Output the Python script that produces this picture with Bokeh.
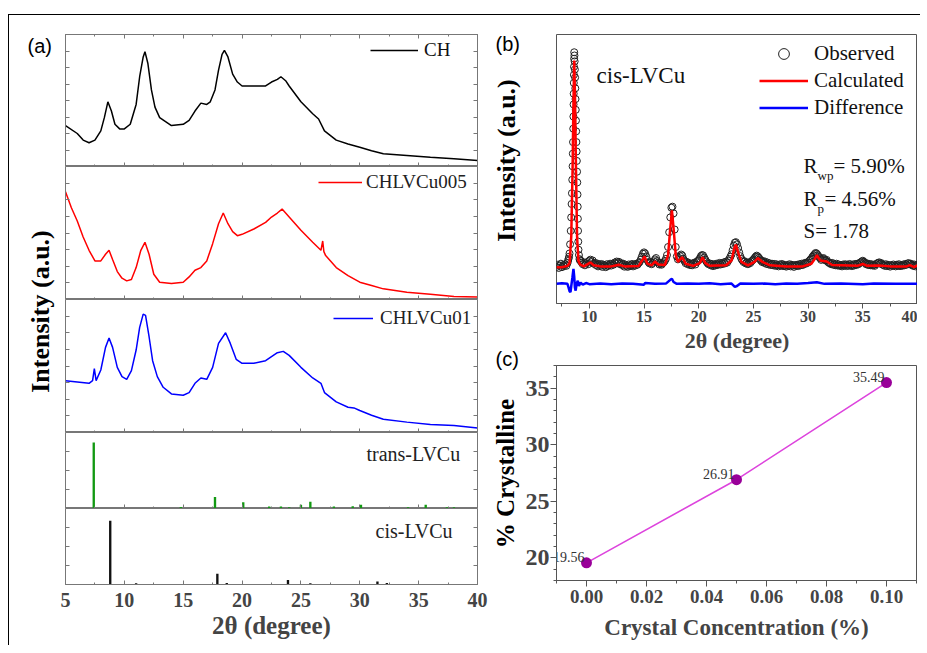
import math
from bokeh.plotting import figure
from bokeh.models import (Range1d, LinearAxis, FixedTicker, Legend, LegendItem,
                          PrintfTickFormatter, CustomJSTickFormatter)
from bokeh.layouts import row, column
from bokeh.core.properties import value
from bokeh.embed import file_html
from bokeh.resources import INLINE

SERIF = "Liberation Serif"
SANS = "Liberation Sans"

# ---------------- panel (a) data (fraction of each sub-panel height) ----------------
ch_x = [5, 6, 6.5, 7, 7.5, 8, 8.3, 8.6, 8.9, 9.2, 9.6, 10, 10.5, 11, 11.3, 11.6, 11.75, 12, 12.3, 12.6,
        13, 13.5, 14, 15, 15.5, 16, 16.5, 17, 17.3, 17.7, 18, 18.3, 18.5, 18.8, 19.2, 19.6, 20, 21, 22, 22.5,
        23, 23.3, 23.7, 24, 25, 26, 26.5, 27, 28, 29, 30, 31, 32, 34, 36, 38, 40]
ch_y = [0.31, 0.25, 0.20, 0.18, 0.20, 0.27, 0.37, 0.49, 0.42, 0.32, 0.285, 0.285, 0.32, 0.47, 0.68, 0.83, 0.87, 0.78, 0.58, 0.45,
        0.37, 0.34, 0.31, 0.32, 0.35, 0.42, 0.48, 0.47, 0.49, 0.58, 0.73, 0.85, 0.88, 0.83, 0.70, 0.64, 0.61, 0.61, 0.61, 0.64,
        0.66, 0.68, 0.65, 0.61, 0.49, 0.40, 0.36, 0.27, 0.20, 0.17, 0.146, 0.12, 0.096, 0.083, 0.07, 0.058, 0.045]

c005_x = [5, 5.5, 6, 6.5, 7, 7.5, 8, 8.4, 8.7, 9.0, 9.4, 9.8, 10.2, 10.6, 11, 11.4, 11.75, 12.1, 12.5, 13,
          14, 15, 15.5, 16, 16.5, 17, 17.5, 18, 18.4, 18.8, 19.2, 19.6, 20, 21, 22, 22.5, 23, 23.4, 24, 25,
          26, 26.7, 26.85, 26.95, 27.1, 28, 29, 30, 31, 32, 34, 36, 38, 40]
c005_y = [0.81, 0.69, 0.59, 0.47, 0.37, 0.29, 0.29, 0.34, 0.37, 0.30, 0.21, 0.16, 0.14, 0.15, 0.24, 0.37, 0.43, 0.34, 0.19, 0.13,
          0.12, 0.13, 0.17, 0.22, 0.24, 0.29, 0.42, 0.57, 0.65, 0.57, 0.51, 0.48, 0.49, 0.53, 0.58, 0.62, 0.65, 0.68, 0.62, 0.52,
          0.43, 0.37, 0.44, 0.36, 0.33, 0.24, 0.18, 0.13, 0.105, 0.08, 0.055, 0.04, 0.023, 0.018]

c01_x = [5, 6, 7, 7.3, 7.45, 7.6, 8, 8.4, 8.7, 9, 9.4, 9.8, 10.2, 10.6, 11, 11.3, 11.6, 11.8, 12.1, 12.4,
         12.8, 13.3, 14, 15, 15.5, 16, 16.5, 17, 17.5, 18, 18.6, 19, 19.5, 20, 21, 22, 22.5, 23, 23.5, 24,
         25, 26, 26.7, 27, 28, 29, 29.5, 30, 31, 32, 34, 36, 38, 40]
c01_y = [0.39, 0.38, 0.37, 0.39, 0.48, 0.39, 0.47, 0.64, 0.71, 0.64, 0.49, 0.42, 0.40, 0.465, 0.62, 0.79, 0.89, 0.88, 0.72, 0.54,
         0.42, 0.34, 0.29, 0.28, 0.30, 0.37, 0.41, 0.40, 0.49, 0.67, 0.75, 0.67, 0.55, 0.52, 0.52, 0.54, 0.57, 0.60, 0.61, 0.58,
         0.49, 0.41, 0.37, 0.30, 0.23, 0.19, 0.185, 0.165, 0.13, 0.10, 0.078, 0.06, 0.053, 0.033]

trans_x = [7.4, 14.8, 17.7, 20.1, 22.3, 23.3, 24.0, 25.0, 25.8, 27.8, 29.4, 30.1, 34.1, 35.6, 37.4, 38.0]
trans_y = [0.87, 0.02, 0.15, 0.083, 0.026, 0.026, 0.018, 0.05, 0.09, 0.026, 0.03, 0.05, 0.018, 0.048, 0.018, 0.018]
cis_x = [8.8, 11.0, 17.9, 18.7, 23.9, 25.8, 31.5, 32.3]
cis_y = [0.84, 0.018, 0.14, 0.02, 0.06, 0.018, 0.04, 0.02]

# ---------------- panel (b) data (percent of frame height) ----------------
# observed points 7.0 .. 7.9 (step 0.1)
obs_start = [13.6, 14.4, 13.2, 14.1, 14.8, 13.5, 14.3, 13.9, 14.6, 14.0]
# observed points on the main peak (x, y)
obs_peak = [(8.0, 15.0), (8.05, 15.8), (8.1, 16.6), (8.15, 17.4), (8.19, 18.6), (8.24, 22), (8.3, 27), (8.34, 32),
            (8.38, 37), (8.41, 41), (8.44, 46), (8.47, 51), (8.49, 55.7), (8.51, 60), (8.53, 65), (8.545, 69.5),
            (8.56, 74), (8.57, 78), (8.58, 82), (8.59, 85), (8.6, 88), (8.61, 91), (8.62, 93.4), (8.64, 92.2),
            (8.66, 90), (8.68, 87), (8.7, 84), (8.72, 80), (8.74, 76), (8.76, 72), (8.78, 68), (8.8, 64),
            (8.82, 60), (8.84, 56.5), (8.86, 53), (8.88, 49), (8.9, 45), (8.92, 40.5), (8.94, 36), (8.955, 31.5),
            (8.97, 27), (8.99, 23), (9.01, 20), (9.05, 18), (9.1, 16.5), (9.15, 16.0)]
# observed points 9.2 .. 40.0 (step 0.1)
obs_rest = [16.0, 15.2, 14.6, 15.3, 14.2, 14.9, 15.4, 14.6,
            15.9, 16.3, 15.4, 16.0, 14.8, 15.1, 14.3, 14.9, 13.8, 14.5,
            14.0, 14.7, 13.6, 14.4, 14.1, 13.5, 14.6, 13.9, 14.3, 14.8,
            14.1, 14.7, 14.4, 15.2, 14.9, 15.6, 15.1, 15.5, 14.6, 15.0,
            14.3, 14.8, 13.7, 14.4, 14.0, 13.6, 14.5, 13.9, 14.2, 14.7,
            13.8, 14.5, 14.1, 14.8, 14.4, 15.0, 15.4, 16.3, 17.4, 18.5,
            19.0, 18.6, 17.5, 16.2, 15.4, 14.9, 15.3, 14.6, 15.1, 15.7,
            16.4, 16.9, 15.8, 15.2, 14.5, 15.0, 14.4, 14.9, 15.3, 15.8,
            16.6, 18.0, 21.0, 26.5, 32.0, 35.6, 36.0, 33.5, 27.5, 21.0,
            17.5, 16.4, 16.9, 17.6, 18.2, 17.8, 16.6, 15.8, 15.0, 15.5,
            14.6, 15.1, 14.3, 14.8, 14.2, 14.9, 15.2, 14.5, 15.4, 15.8,
            16.1, 16.8, 17.6, 18.0, 17.9, 17.1, 16.3, 15.6, 15.0, 14.6,
            14.9, 14.2, 14.7, 13.9, 14.5, 14.1, 14.8, 14.3, 14.6, 15.1,
            14.5, 15.0, 14.7, 15.3, 14.9, 15.6, 15.2, 15.9, 16.6, 17.4,
            18.3, 19.8, 21.5, 22.6, 22.8, 22.0, 20.6, 19.0, 17.6, 16.6,
            16.0, 15.4, 15.7, 14.9, 15.2, 14.6, 15.3, 15.0, 15.6, 16.0,
            16.4, 16.9, 17.4, 17.8, 17.5, 17.0, 16.4, 15.9, 15.4, 15.8,
            15.1, 15.5, 14.7, 15.2, 14.5, 14.9, 14.3, 14.8, 14.2, 14.7,
            14.0, 14.6, 14.2, 13.8, 14.5, 14.1, 14.7, 13.9, 14.4, 14.0,
            13.7, 14.3, 14.0, 14.6, 13.8, 14.4, 14.1, 13.6, 14.3, 14.0,
            14.4, 13.9, 14.6, 14.2, 14.8, 14.3, 14.7, 15.1, 14.8, 15.3,
            15.2, 15.8, 16.3, 16.7, 17.4, 17.9, 18.4, 18.8, 18.5, 17.9,
            17.3, 16.8, 16.2, 16.6, 16.9, 16.4, 16.0, 16.2, 15.5, 15.1,
            15.0, 14.6, 15.1, 14.4, 14.7, 14.2, 14.8, 14.1, 14.5, 14.0,
            14.3, 13.8, 14.5, 14.1, 14.6, 13.9, 14.4, 14.0, 14.7, 14.2,
            13.9, 14.5, 14.1, 14.7, 14.3, 14.8, 14.6, 15.0, 15.3, 15.6,
            15.9, 15.5, 15.1, 14.6, 14.9, 14.3, 14.7, 14.2, 14.6, 14.1,
            14.4, 14.0, 14.6, 14.9, 15.1, 15.3, 14.8, 15.0, 14.5, 14.3,
            14.0, 14.6, 13.9, 14.4, 14.1, 13.7, 14.3, 14.0, 14.5, 14.1,
            13.8, 14.4, 14.0, 14.6, 13.9, 14.3, 14.0, 14.5, 14.2, 14.7,
            14.4, 14.9, 15.0, 14.6, 14.8, 14.3, 14.0, 14.5, 13.8, 14.3,
            14.1]
calculated = [(7.0, 13.5), (7.5, 13.5), (8.0, 14.0), (8.2, 15.0), (8.35, 25), (8.47, 50), (8.55, 75), (8.62, 90.3),
              (8.7, 75), (8.78, 50), (8.88, 25), (9.0, 16), (9.15, 14.5), (9.5, 13.8), (10.0, 15.0), (10.1, 15.3),
              (10.4, 14.2), (11.0, 13.8), (12.0, 13.8), (12.7, 14.4), (13.2, 13.8), (14.5, 13.9), (14.9, 16.5),
              (15.05, 17.5), (15.3, 14.8), (15.7, 14.2), (16.0, 15.6), (16.3, 14.5), (16.9, 14.3), (17.2, 18),
              (17.4, 28), (17.55, 34.6), (17.7, 28), (17.9, 18), (18.1, 15.5), (18.5, 17.2), (18.8, 14.8),
              (19.5, 14.0), (20.1, 15.0), (20.35, 17.2), (20.6, 15.0), (21.0, 14.0), (22.5, 14.2), (23.0, 16.0),
              (23.25, 20.5), (23.4, 21.9), (23.6, 19.0), (23.9, 15.5), (24.5, 14.2), (25.1, 15.5), (25.4, 16.9),
              (25.8, 15.5), (26.5, 14.2), (28.0, 13.8), (29.5, 13.8), (30.3, 14.8), (30.6, 16.5), (30.8, 18.0),
              (31.1, 16.0), (31.7, 15.6), (32.2, 14.3), (34.5, 14.0), (35.0, 14.7), (35.4, 14.0), (36.5, 14.1),
              (37.5, 13.8), (39.0, 13.8), (39.3, 14.3), (39.7, 13.5), (40.0, 14.2)]
difference = [(7.0, 7.3), (7.5, 7.5), (8.0, 7.3), (8.1, 6.0), (8.2, 4.5), (8.28, 4.2), (8.35, 6.5), (8.45, 9.5),
              (8.55, 12.9), (8.62, 10), (8.68, 6), (8.75, 4.8), (8.85, 7.5), (8.95, 8.5), (9.05, 6.5), (9.2, 7.8),
              (9.4, 7.0), (9.7, 7.6), (10, 7.2), (11, 7.4), (12, 7.2), (13, 7.4), (14, 7.3), (15, 7.0), (15.1, 7.6),
              (16, 7.3), (17, 7.4), (17.4, 8.8), (17.55, 9.2), (17.7, 8.0), (18, 7.3), (19, 7.4), (20, 7.3), (21, 7.5),
              (22, 7.2), (23, 7.4), (23.3, 6.2), (23.5, 6.5), (23.8, 7.4), (25, 7.3), (26, 7.4), (27, 7.2), (28, 7.4),
              (29, 7.3), (30, 7.6), (30.8, 7.9), (31.5, 7.3), (33, 7.4), (35, 7.2), (36, 7.4), (38, 7.3), (40, 7.3)]

# ---------------- panel (c) data ----------------
conc = [0.00, 0.05, 0.10]
cryst = [19.56, 26.91, 35.49]
cryst_labels = ["19.56", "26.91", "35.49"]

AX = "#777777"
DK = "#555555"
NOLABEL = CustomJSTickFormatter(code="return ''")


def no_grid(f):
    f.xgrid.visible = False
    f.ygrid.visible = False
    return f


def bold_text(sz):
    return dict(text_font=value(SERIF), text_font_style="bold", text_font_size=sz)


def strip(width):
    return no_grid(figure(width=width, height=630, x_range=Range1d(0, width), y_range=Range1d(0, 630), min_border=0,
                          toolbar_location=None, output_backend="svg", x_axis_location=None, y_axis_location=None,
                          outline_line_color=None))


# ---------------- panel (a) ----------------
la = strip(50)
la.text(x=[18], y=[600], text=["(a)"], text_font=value(SANS), text_font_size="20px",
        text_baseline="middle", text_align="left", text_color="black")
la.text(x=[31], y=[334], text=["Intensity (a.u.)"], angle=math.pi / 2, text_align="center",
        text_baseline="middle", text_color="black", **bold_text("26px"))

xr = Range1d(5, 40)
xmaj = [5, 10, 15, 20, 25, 30, 35, 40]
xmin = [7.5, 12.5, 17.5, 22.5, 27.5, 32.5, 37.5]


def in_axis(ticks, minor=None):
    return LinearAxis(ticker=FixedTicker(ticks=ticks, minor_ticks=minor or []), formatter=NOLABEL,
                      major_tick_in=4, major_tick_out=0, minor_tick_in=2, minor_tick_out=0,
                      major_label_text_font_size="1px", major_label_standoff=0,
                      axis_line_color=AX, major_tick_line_color=AX, minor_tick_line_color=AX)


def make_sub(h, yticks, top=0, bottom=0):
    f = figure(frame_width=412, frame_height=h, x_range=xr, y_range=Range1d(0, 1),
               min_border_left=6, min_border_right=12, min_border_top=top, min_border_bottom=bottom,
               toolbar_location=None, output_backend="svg", x_axis_location=None, y_axis_location=None,
               outline_line_color=AX)
    no_grid(f)
    f.add_layout(in_axis(yticks), "left")
    f.add_layout(in_axis(yticks), "right")
    return f


def one_legend(label, r, loc, gw, st, color):
    return Legend(items=[LegendItem(label=label, renderers=[r])], location=loc, padding=0, margin=0,
                  glyph_width=gw, glyph_height=20, label_height=20, label_standoff=st,
                  label_text_font=SERIF, label_text_font_size="19px", label_text_color=color,
                  background_fill_alpha=0, border_line_alpha=0)


yt_big = [0.125, 0.25, 0.375, 0.5, 0.625, 0.75, 0.875]
yt_small = [0.25, 0.5, 0.75]

s1 = make_sub(132, yt_big, top=19)
s1.add_layout(in_axis(xmaj, xmin), "above")
s1.add_layout(in_axis(xmaj, xmin), "below")
r1 = s1.line(ch_x, ch_y, line_color="black", line_width=1.5)
s1.add_layout(one_legend("CH", r1, (305, 105), 48, 6, "#111"))

s2 = make_sub(133, yt_big)
s2.add_layout(in_axis(xmaj, xmin), "below")
r2 = s2.line(c005_x, c005_y, line_color="#ff0000", line_width=1.5)
s2.add_layout(one_legend("CHLVCu005", r2, (253, 106), 44, 4, "#222"))

s3 = make_sub(133, yt_big)
s3.add_layout(in_axis(xmaj, xmin), "below")
r3 = s3.line(c01_x, c01_y, line_color="#0000ff", line_width=1.5)
s3.add_layout(one_legend("CHLVCu01", r3, (268, 103), 40, 7, "#222"))

s4 = make_sub(76, yt_small)
s4.add_layout(in_axis(xmaj, xmin), "below")
s4.vbar(x=trans_x, top=trans_y, bottom=0, width=0.2, fill_color="#129912", line_color=None)
s4.text(x=[30.57], y=[0.72], text=["trans-LVCu"], text_font=value(SERIF), text_font_size="20px",
        text_baseline="middle", text_color="#222")

s5 = make_sub(76, yt_small, bottom=61)
ax5 = LinearAxis(ticker=FixedTicker(ticks=xmaj, minor_ticks=xmin),
                 major_tick_in=4, major_tick_out=0, minor_tick_in=2, minor_tick_out=0,
                 major_label_text_font=SERIF, major_label_text_font_style="bold", major_label_text_font_size="20px",
                 major_label_standoff=8, axis_label="2θ (degree)", axis_label_text_font=SERIF,
                 axis_label_text_font_style="bold", axis_label_text_font_size="25px", axis_label_standoff=2,
                 axis_line_color=AX, major_tick_line_color=AX, minor_tick_line_color=AX)
s5.add_layout(ax5, "below")
s5.vbar(x=cis_x, top=cis_y, bottom=0, width=0.2, fill_color="#111111", line_color=None)
s5.text(x=[31.34], y=[0.71], text=["cis-LVCu"], text_font=value(SERIF), text_font_size="20px",
        text_baseline="middle", text_color="#222")

# ---------------- strip with letters / titles of (b) and (c) ----------------
rl = strip(33)
rl.text(x=[6, 6], y=[602, 287], text=["(b)", "(c)"], text_font=value(SANS), text_font_size="20px",
        text_baseline="middle", text_align="left", text_color="black")
rl.text(x=[17], y=[485], text=["Intensity (a.u.)"], angle=math.pi / 2, text_align="center",
        text_baseline="middle", text_color="black", **bold_text("26px"))
rl.text(x=[16], y=[172], text=["% Crystalline"], angle=math.pi / 2, text_align="center",
        text_baseline="middle", text_color="black", **bold_text("25px"))

# ---------------- panel (b) ----------------
pb = no_grid(figure(frame_width=361, frame_height=269, x_range=Range1d(7, 40), y_range=Range1d(0, 100),
                    min_border_left=31, min_border_right=3, min_border_top=19, min_border_bottom=40,
                    toolbar_location=None, output_backend="svg", x_axis_location=None, y_axis_location=None,
                    outline_line_color=DK))
bx = LinearAxis(ticker=FixedTicker(ticks=[10, 15, 20, 25, 30, 35, 40],
                                   minor_ticks=[7.5, 12.5, 17.5, 22.5, 27.5, 32.5, 37.5]),
                major_tick_out=5, major_tick_in=0, minor_tick_out=3, minor_tick_in=0,
                major_label_text_font=SERIF, major_label_text_font_style="bold", major_label_text_font_size="16px",
                major_label_standoff=2, axis_label="2θ (degree)", axis_label_text_font=SERIF,
                axis_label_text_font_style="bold", axis_label_text_font_size="22px", axis_label_standoff=3,
                axis_line_color=DK, major_tick_line_color=DK, minor_tick_line_color=DK)
pb.add_layout(bx, "below")

obs_x = [round(7.0 + 0.1 * i, 2) for i in range(len(obs_start))] + [p[0] for p in obs_peak] + \
        [round(9.2 + 0.1 * i, 2) for i in range(len(obs_rest))]
obs_y = obs_start + [p[1] for p in obs_peak] + obs_rest
ro = pb.scatter(obs_x, obs_y, marker="circle", size=7, fill_color=None, line_color="#222222", line_width=1)
rc = pb.line([p[0] for p in calculated], [p[1] for p in calculated], line_color="#ff0000", line_width=2.5)
rd = pb.line([p[0] for p in difference], [p[1] for p in difference], line_color="#0000ff", line_width=2.5)
pb.add_layout(Legend(items=[LegendItem(label="Observed", renderers=[ro]),
                            LegendItem(label="Calculated", renderers=[rc]),
                            LegendItem(label="Difference", renderers=[rd])],
                     location=(203, 182), padding=0, margin=0, spacing=0, glyph_width=49, glyph_height=27,
                     label_height=27, label_standoff=6, label_text_font=SERIF, label_text_font_size="21px",
                     label_text_color="#111", background_fill_alpha=0, border_line_alpha=0))
pb.text(x=[10.66], y=[84.8], text=["cis-LVCu"], text_font=value(SERIF), text_font_size="23px",
        text_baseline="middle", text_color="#111")
pb.text(x=[29.58, 29.58, 29.58], y=[51.3, 39.0, 27.1], text=["R", "R", "S= 1.78"], text_font=value(SERIF),
        text_font_size="21px", text_baseline="middle", text_color="#111")
pb.text(x=[30.86, 30.86], y=[47.6, 35.3], text=["wp", "p"], text_font=value(SERIF),
        text_font_size="13px", text_baseline="middle", text_color="#111")
pb.text(x=[32.32, 31.5], y=[51.3, 39.0], text=["= 5.90%", "= 4.56%"], text_font=value(SERIF),
        text_font_size="21px", text_baseline="middle", text_color="#111")

# ---------------- panel (c) ----------------
pc = no_grid(figure(frame_width=360, frame_height=215, x_range=Range1d(-0.01, 0.11), y_range=Range1d(18, 37),
                    min_border_left=31, min_border_right=4, min_border_top=10, min_border_bottom=60,
                    toolbar_location=None, output_backend="svg", x_axis_location=None, y_axis_location=None,
                    outline_line_color=DK))
cx = LinearAxis(ticker=FixedTicker(ticks=[0.0, 0.02, 0.04, 0.06, 0.08, 0.10],
                                   minor_ticks=[-0.01, 0.01, 0.03, 0.05, 0.07, 0.09, 0.11]),
                formatter=PrintfTickFormatter(format="%.2f"),
                major_tick_out=6, major_tick_in=0, minor_tick_out=3, minor_tick_in=0,
                major_label_text_font=SERIF, major_label_text_font_style="bold", major_label_text_font_size="19px",
                major_label_standoff=3, axis_label="Crystal Concentration (%)", axis_label_text_font=SERIF,
                axis_label_text_font_style="bold", axis_label_text_font_size="23px", axis_label_standoff=9,
                axis_line_color=DK, major_tick_line_color=DK, minor_tick_line_color=DK)
pc.add_layout(cx, "below")
cy = LinearAxis(ticker=FixedTicker(ticks=[20, 25, 30, 35],
                                   minor_ticks=[18, 19, 21, 22, 23, 24, 26, 27, 28, 29, 31, 32, 33, 34, 36, 37]),
                major_tick_out=6, major_tick_in=0, minor_tick_out=3, minor_tick_in=0,
                major_label_text_font=SERIF, major_label_text_font_style="bold", major_label_text_font_size="24px",
                major_label_standoff=1,
                axis_line_color=DK, major_tick_line_color=DK, minor_tick_line_color=DK)
pc.add_layout(cy, "left")
pc.line(conc, cryst, line_color="#dd44dd", line_width=1.6)
pc.scatter(conc, cryst, marker="circle", size=11, fill_color="#990099", line_color=None)
pc.text(x=conc, y=cryst, text=cryst_labels, x_offset=-2, y_offset=-6, text_align="right",
        text_baseline="middle", text_font=value(SERIF), text_font_size="14px", text_color="#333333")

layout = row(la, column(s1, s2, s3, s4, s5), rl, column(pb, pc))
layout.styles = {"border-top": "1px solid black", "border-left": "1px solid black",
                 "margin-top": "14px", "margin-left": "8px"}

open("out.html", "w").write(file_html(layout, INLINE))
